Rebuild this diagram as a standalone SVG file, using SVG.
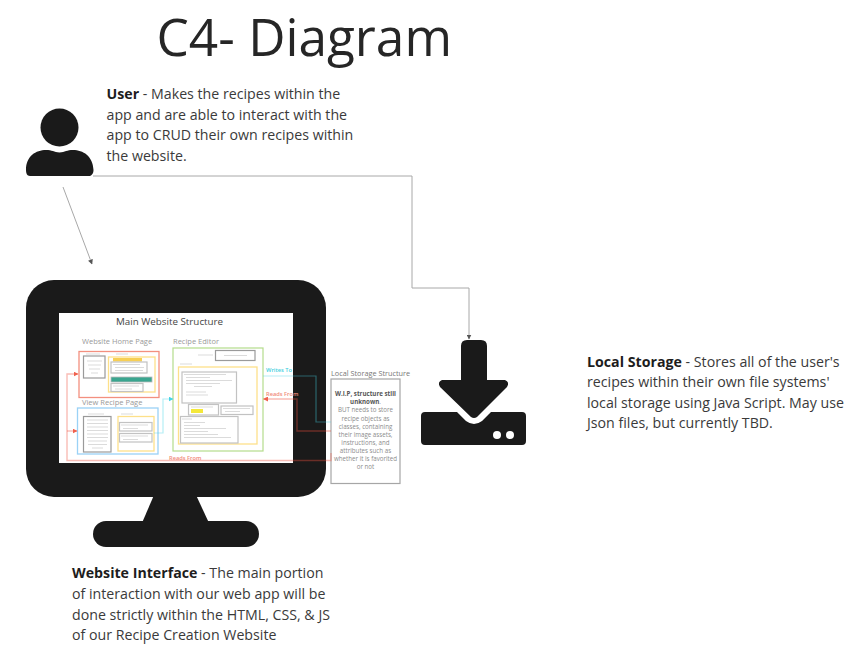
<svg xmlns="http://www.w3.org/2000/svg" width="857" height="646" viewBox="0 0 857 646">
<style>
text{font-family:"Open Sans","Liberation Sans",sans-serif}
.t{font-size:14.2px;fill:#3a3a3a}
.t b,.b{font-weight:700;fill:#1d1d1d}
.ic{fill:#1a1a1a}
.c{fill:none;stroke:#a8a8a8;stroke-width:1}
.r{fill:none;stroke:#f0503c;stroke-width:1.4;stroke-opacity:.38}
.g{fill:none;stroke:#45d4e6;stroke-width:1.2;stroke-opacity:.4}
.hd{font-size:7.5px;fill:#999}
.box{fill:#fff;stroke:#c2c2c2;stroke-width:1.200}
.dk{fill:#fff;stroke:#9a9a9a;stroke-width:1.200}
.y{fill:#fff;stroke:#fde08a;stroke-width:1.300}
.gk{stroke:#d2d2d2;stroke-width:.8;fill:none}
.s{font-size:6.200px;fill:#8c8c8c}
.sb{font-size:6.200px;fill:#555;font-weight:700}
.l{font-size:5.700px;font-weight:600}
</style>
<defs>
<marker id="a" markerWidth="5" markerHeight="5" refX="4.500" refY="2.500" orient="auto" markerUnits="userSpaceOnUse"><path d="M0 0L5 2.500L0 5z" fill="#555"/></marker>
<marker id="ar" markerWidth="5" markerHeight="5" refX="4.500" refY="2.500" orient="auto" markerUnits="userSpaceOnUse"><path d="M0 0L5 2.500L0 5z" fill="#f0604c"/></marker>
<marker id="ag" markerWidth="5" markerHeight="5" refX="4.500" refY="2.500" orient="auto" markerUnits="userSpaceOnUse"><path d="M0 0L5 2.500L0 5z" fill="#45d4e6"/></marker>
</defs>
<text id="title" x="156.500" y="56" font-size="51.400" fill="#262626">C4- Diagram</text>
<g id="user">
<circle class="ic" cx="59.500" cy="127.500" r="19"/>
<path class="ic" d="M26 170C26 156 36 150 46 150C52 150 54 152 59.500 152.500C65 152 67 150 73 150C83 150 93 156 93.500 170C93.500 174 91 176 89 176H30C27 176 26 173 26 170Z"/>
<text class="t"><tspan x="106.500" y="99" class="b">User</tspan><tspan> - Makes the recipes within the</tspan><tspan x="106.500" y="120">app and are able to interact with the</tspan><tspan x="106.500" y="140">app to CRUD their own recipes within</tspan><tspan x="106.500" y="161">the website.</tspan></text>
</g>
<g id="storage">
<path class="ic" d="M467 340H481Q487 340 487 346V380H505Q510 382 507 387L477 417Q474 419 471 417L440 387Q437 382 442 380H461V346Q461 340 467 340Z"/>
<path class="ic" d="M425 412H457L466 421Q474 427 482 421L491 412H522Q526 412 526 416V441Q526 445 522 445H425Q421 445 421 441V416Q421 412 425 412Z"/>
<circle cx="497" cy="435" r="4" fill="#fff"/><circle cx="510" cy="435" r="4" fill="#fff"/>
<text class="t"><tspan x="587" y="367" class="b">Local Storage</tspan><tspan> - Stores all of the user's</tspan><tspan x="587" y="387">recipes within their own file systems'</tspan><tspan x="587" y="408">local storage using Java Script. May use</tspan><tspan x="587" y="428">Json files, but currently TBD.</tspan></text>
</g>
<g id="monitor">
<rect class="ic" x="26" y="280" width="300" height="217" rx="28"/>
<path class="ic" d="M154 495H196L209 523H142Z"/>
<rect class="ic" x="93" y="521" width="166" height="26" rx="13"/>
<rect x="59" y="313" width="234" height="150" fill="#fff"/>
<text x="116" y="325" font-size="9.800" fill="#444">Main Website Structure</text>
</g>
<g id="home-page">
<text class="hd" x="82" y="344">Website Home Page</text>
<rect x="79" y="351.500" width="80" height="46" fill="#fff" stroke="#f3907f" stroke-width="1.300"/>
<path class="gk" d="M86 354H100M116 354H128"/>
<rect class="dk" x="83.500" y="356" width="21.500" height="22"/>
<path class="gk" d="M87 361H102M88 365H101M89 369H100M91 373H98"/>
<rect class="y" x="108.500" y="357" width="46.500" height="35"/>
<rect x="113" y="358" width="29" height="3.500" fill="#f7cf55"/>
<rect class="box" x="111" y="362" width="36" height="11"/>
<path class="gk" d="M113 364.500H140M115 367.500H144M115 370.500H143"/>
<rect x="111" y="377" width="41" height="5" fill="#3aa58f" stroke="#bbb" stroke-width=".8"/>
<rect class="box" x="111" y="383.500" width="32" height="8"/>
<path class="gk" d="M113 386H139M115 389H132"/>
</g>
<g id="view-page">
<text class="hd" x="82" y="405">View Recipe Page</text>
<rect x="77.500" y="408" width="80.500" height="46" fill="#fff" stroke="#9ad2f6" stroke-width="1.300"/>
<path class="gk" d="M88 414H104M121 414H133"/>
<rect class="dk" x="83.500" y="416.500" width="27.500" height="35.500"/>
<path class="gk" d="M87 420H108M87 423.500H108M87 427H108M87 430.500H108M87 434H108M87 437.500H108M88 441H107M88 444.500H107M92 448H103"/>
<rect class="y" x="118" y="416.500" width="36" height="34.500"/>
<rect class="box" x="119.500" y="422.500" width="32.500" height="8.500"/>
<path class="gk" d="M121 425H148M123 428.500H138"/>
<rect class="box" x="119.500" y="433.500" width="32.500" height="8.500"/>
<path class="gk" d="M121 436H148M123 439.500H138"/>
</g>
<g id="recipe-editor">
<text class="hd" x="173" y="344">Recipe Editor</text>
<rect x="173" y="348" width="90" height="103" fill="#fff" stroke="#b4dc8c" stroke-width="1.200"/>
<rect class="dk" x="215.500" y="350.500" width="39.500" height="10"/>
<path class="gk" d="M224 355.500H247M198 355H213M180 364H192"/>
<rect class="y" x="178.500" y="367" width="78.500" height="77"/>
<rect class="box" x="182" y="372" width="54.500" height="31"/>
<path class="gk" d="M184 374.500H226M186 377.500H210M186 380.500H232M186 383.500H220M194 386.500H212M186 392H206M186 395H208"/>
<rect class="box" x="188.500" y="404.500" width="30" height="10.500"/>
<rect x="191" y="409" width="12" height="4" fill="#f4e83a"/>
<path class="gk" d="M191 407H213"/>
<rect class="box" x="221" y="406" width="32" height="8.500"/>
<path class="gk" d="M223 408.500H250M225 411.500H240"/>
<rect class="box" x="180.500" y="416.500" width="57.500" height="26.500"/>
<path class="gk" d="M182 419H192M184 422.500H205M184 425.500H200M184 428.500H226M184 431.500H208M184 434.500H218M184 437.500H231"/>
</g>
<g id="local-storage-structure">
<text x="331" y="376" font-size="7.300" fill="#777">Local Storage Structure</text>
<rect x="331" y="379" width="69" height="104.500" fill="#fff" stroke="#a6a6a6" stroke-width="1.200"/>
<text text-anchor="middle"><tspan x="365.500" y="396" class="sb">W.I.P, structure still</tspan><tspan x="365.500" y="404" class="sb">unknown</tspan><tspan class="s">.</tspan><tspan x="365.500" y="412" class="s">BUT needs to store</tspan><tspan x="365.500" y="421" class="s">recipe objects as</tspan><tspan x="365.500" y="429" class="s">classes, containing</tspan><tspan x="365.500" y="437" class="s">their image assets,</tspan><tspan x="365.500" y="445" class="s">instructions, and</tspan><tspan x="365.500" y="453" class="s">attributes such as</tspan><tspan x="365.500" y="461" class="s">whether it is favorited</tspan><tspan x="365.500" y="469" class="s">or not</tspan></text>
</g>
<g id="connectors">
<path class="c" d="M63 187L92 264" marker-end="url(#a)"/>
<path class="c" d="M93 176H412V288H469V339" marker-end="url(#a)"/>
<path class="r" d="M331 453V460.500H67V374H78" marker-end="url(#ar)"/>
<path class="r" d="M67 431H77" marker-end="url(#ar)"/>
<path class="r" d="M331 431H297V399H263.500" marker-end="url(#ar)"/>
<path class="g" d="M331 422H316V376H263"/>
<path class="g" d="M154 433H163V399H173" marker-end="url(#ag)"/>
<text class="l" x="266" y="372" fill="#3fd0e0">Writes To</text>
<text class="l" x="266" y="396" fill="#f08a7a">Reads From</text>
<text class="l" x="169" y="460" fill="#f08a7a">Reads From</text>
</g>
<g id="website-interface">
<text class="t"><tspan x="72" y="578" class="b">Website Interface</tspan><tspan> - The main portion</tspan><tspan x="72" y="599">of interaction with our web app will be</tspan><tspan x="72" y="620">done strictly within the HTML, CSS, &amp; JS</tspan><tspan x="72" y="640">of our Recipe Creation Website</tspan></text>
</g>
</svg>
